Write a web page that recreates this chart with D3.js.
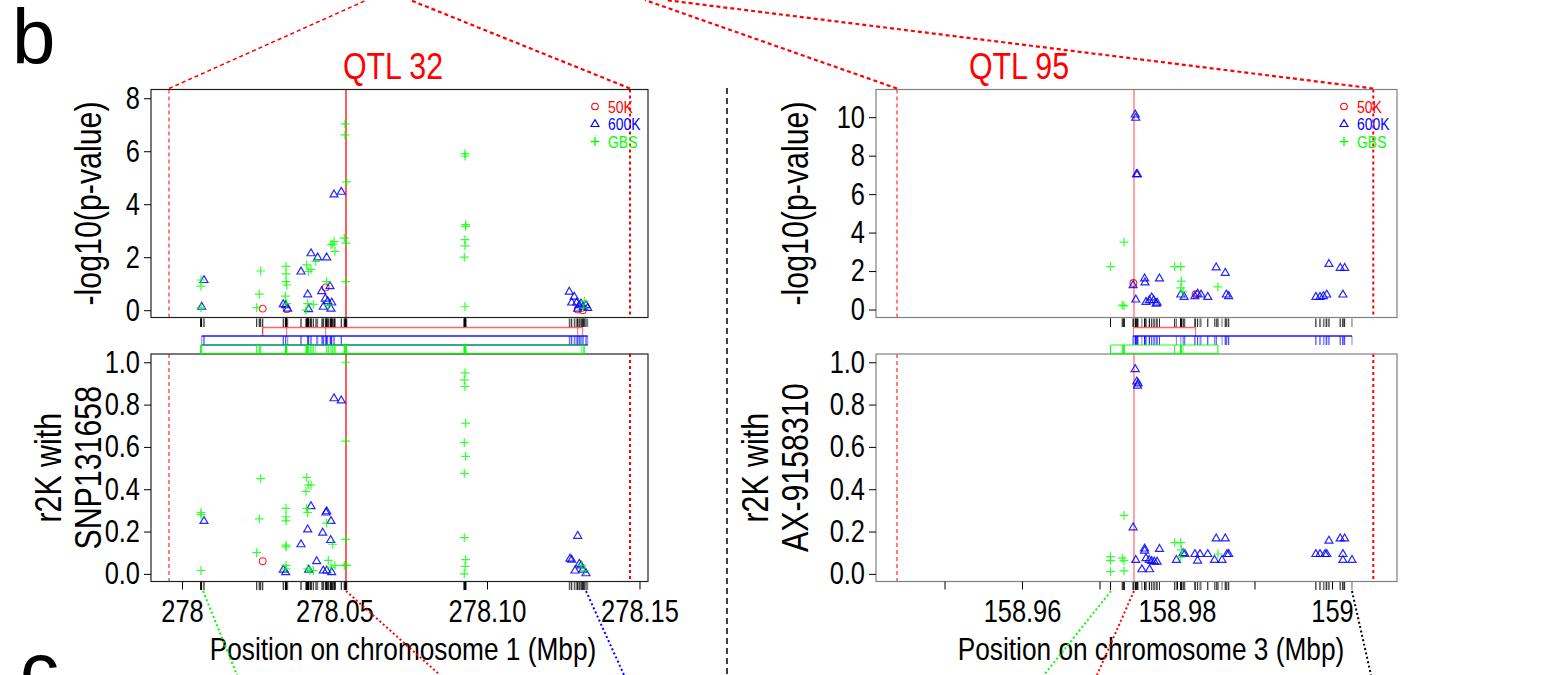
<!DOCTYPE html>
<html><head><meta charset="utf-8">
<script src="https://cdn.jsdelivr.net/npm/d3@7"></script>
<style>html,body{margin:0;padding:0;background:#fff;} svg{display:block}</style>
</head><body>
<svg id="c" width="1543" height="675"></svg>
<script>
// ---------------- DATA ----------------
// QTL 32, chromosome 1 (positions in Mbp)
const q32_pval_50K = [[278.02646,0.06],[278.03433,0.04],[278.04711,0.86],[278.12974,0.03],[278.13138,0.00]];
const q32_pval_600K = [[278.00646,0.13],[278.00721,1.14],[278.03321,0.23],[278.03400,0.19],[278.03466,0.06],[278.03902,1.46],[278.04121,0.60],[278.04154,0.04],[278.04230,2.15],[278.04449,1.99],[278.04744,1.99],[278.04580,0.72],[278.04633,0.13],[278.04698,0.44],[278.04777,0.34],[278.04908,0.29],[278.04852,0.91],[278.04885,0.06],[278.04984,4.37],[278.05223,4.47],[278.12698,0.70],[278.12862,0.51],[278.12777,0.29],[278.12941,0.29],[278.13026,0.19],[278.13082,0.25],[278.13157,0.13],[278.12974,0.06],[278.13302,0.09],[278.13246,0.19]];
const q32_pval_GBS = [[278.00623,1.14],[278.00623,0.91],[278.00623,0.09],[278.02580,1.48],[278.02534,0.61],[278.02449,0.10],[278.03410,1.65],[278.03410,1.37],[278.03410,1.08],[278.03387,0.53],[278.03433,0.25],[278.03433,0.95],[278.04089,1.71],[278.04141,1.46],[278.04230,1.54],[278.04066,0.00],[278.04121,0.25],[278.04305,0.22],[278.04384,1.84],[278.04744,1.08],[278.04797,0.19],[278.04941,2.49],[278.05016,2.22],[278.04993,2.59],[278.04885,2.47],[278.05344,7.03],[278.05344,6.62],[278.05400,4.84],[278.05321,2.72],[278.05377,2.53],[278.05367,1.08],[278.09279,5.91],[278.09279,5.82],[278.09302,3.23],[278.09302,3.16],[278.09279,2.66],[278.09279,2.43],[278.09256,2.00],[278.09279,0.13],[278.13190,0.34],[278.13157,0.09]];
const q32_r2_50K = [[278.02646,0.06]];
const q32_r2_600K = [[278.00721,0.25],[278.03321,0.02],[278.03400,0.008],[278.03902,0.14],[278.04121,0.21],[278.04154,0.02],[278.04230,0.32],[278.04416,0.06],[278.04613,0.195],[278.04744,0.296],[278.04721,0.29],[278.04885,0.25],[278.04875,0.16],[278.04633,0.016],[278.04744,0.016],[278.04908,0.008],[278.04984,0.83],[278.05223,0.82],[278.12974,0.18],[278.12721,0.072],[278.12777,0.067],[278.13026,0.048],[278.13082,0.04],[278.12885,0.016],[278.13138,0.02],[278.13246,0.003]];
const q32_r2_GBS = [[278.00623,0.29],[278.00623,0.28],[278.00623,0.016],[278.02580,0.45],[278.02534,0.26],[278.02449,0.10],[278.03410,0.31],[278.03410,0.27],[278.03410,0.25],[278.03410,0.136],[278.03410,0.128],[278.03410,0.04],[278.03410,0.024],[278.04089,0.456],[278.04141,0.42],[278.04230,0.42],[278.04066,0.39],[278.04089,0.31],[278.04121,0.29],[278.04121,0.024],[278.04197,0.016],[278.04305,0.016],[278.04744,0.24],[278.04797,0.064],[278.04941,0.14],[278.05016,0.04],[278.04885,0.032],[278.05367,1.0],[278.05367,0.627],[278.05367,0.163],[278.05321,0.04],[278.05400,0.04],[278.09279,0.95],[278.09256,0.917],[278.09279,0.885],[278.09302,0.712],[278.09256,0.62],[278.09302,0.555],[278.09256,0.475],[278.09256,0.171],[278.09302,0.067],[278.09279,0.035],[278.09256,0.0],[278.13105,0.04],[278.13190,0.016]];

// QTL 95, chromosome 3
const q95_pval_50K = [[158.97437,1.38],[158.98240,0.80]];
const q95_pval_600K = [[158.97461,10.14],[158.97468,9.97],[158.97490,7.04],[158.97477,7.04],[158.97434,1.27],[158.97468,0.52],[158.97582,1.62],[158.97587,1.41],[158.97600,0.40],[158.97643,0.49],[158.97674,0.63],[158.97699,0.49],[158.97730,0.31],[158.97743,0.36],[158.97774,1.62],[158.98049,0.78],[158.98092,0.66],[158.98231,0.70],[158.98266,0.83],[158.98310,0.78],[158.98397,0.66],[158.98506,2.19],[158.98623,1.91],[158.98637,0.78],[158.98667,0.70],[158.99792,0.66],[158.99845,0.66],[158.99889,0.70],[158.99932,0.78],[158.99961,2.37],[159.00106,2.17],[159.00163,2.17],[159.00141,0.78]];
const q95_pval_GBS = [[158.97142,2.23],[158.97316,3.50],[158.97294,0.23],[158.97316,0.19],[158.97970,2.23],[158.98049,2.23],[158.98057,1.48],[158.98049,1.13],[158.98079,0.92],[158.98528,1.18]];
const q95_r2_50K = [];
const q95_r2_600K = [[158.97461,0.968],[158.97481,0.909],[158.97499,0.90],[158.97490,0.89],[158.97434,0.22],[158.97468,0.066],[158.97547,0.022],[158.97646,0.022],[158.97582,0.12],[158.97582,0.11],[158.97600,0.074],[158.97643,0.066],[158.97674,0.061],[158.97708,0.058],[158.97743,0.058],[158.97774,0.118],[158.97992,0.066],[158.98079,0.098],[158.98101,0.095],[158.98231,0.094],[158.98266,0.063],[158.98297,0.094],[158.98397,0.094],[158.98506,0.168],[158.98623,0.168],[158.98484,0.066],[158.98581,0.066],[158.98645,0.094],[158.98667,0.094],[158.99792,0.094],[158.99845,0.094],[158.99910,0.094],[158.99932,0.094],[158.99961,0.157],[159.00106,0.168],[159.00163,0.168],[159.00141,0.094],[159.00141,0.066],[159.00258,0.066]];
const q95_r2_GBS = [[158.97142,0.082],[158.97142,0.063],[158.97142,0.011],[158.97316,0.276],[158.97294,0.074],[158.97316,0.063],[158.97316,0.014],[158.97970,0.148],[158.98049,0.148],[158.98057,0.113],[158.98049,0.079],[158.98528,0.094]];

// peaks, interval bounds, connectors (Mbp)
const q32_peak = 278.05377, q32_bounds = [277.99574, 278.14689];
const q95_peak = 158.97445, q95_bounds = [158.94387, 159.00533];
const q32_linkPos = [278.00689, 278.05377, 278.13246];
const q95_linkPos = [158.97148, 158.97445, 159.00258];

// axes
const q32_xTicks = [278, 278.05, 278.10, 278.15];
const q32_xLabels = ["278", "278.05", "278.10", "278.15"];
const q95_xTicks = [158.95, 158.96, 158.97, 158.98, 158.99, 159.00];
const q95_xLabels = ["", "158.96", "", "158.98", "", "159"];
const q32_yTicks = [0, 2, 4, 6, 8];
const q95_yTicks = [0, 2, 4, 6, 8, 10];
const r2Ticks = [0, 0.2, 0.4, 0.6, 0.8, 1.0];
const r2Labels = ["0.0", "0.2", "0.4", "0.6", "0.8", "1.0"];
const legendLabels = ["50K", "600K", "GBS"];
const titles = ["QTL 32", "QTL 95"];
const xTitles = ["Position on chromosome 1 (Mbp)", "Position on chromosome 3 (Mbp)"];
const r2Titles = [["r2K with", "SNP131658"], ["r2K with", "AX-9158310"]];
const yTitle = "-log10(p-value)";

// ---------------- DRAW ----------------
const svg = d3.select("#c");
const FN = "'Liberation Sans',Arial,sans-serif";   // condensed below via textLength
const RED = "#ff0000", BLUE = "#0000ff", GREEN = "#00ff00";
const TOP = {y0: 89.5, y1: 317.5};
const BOT = {y0: 354, y1: 581.5};
const defs = svg.append("defs");

const TRI = "M0,-4.4L4,2.5L-4,2.5Z";
const PLUS = "M-4.4,0H4.4M0,-4.4V4.4";

function drawPts(layer, s50, s600, sGBS, x, y) {
  layer.append("g").selectAll("circle").data(s50).join("circle")
    .attr("cx", d => x(d[0])).attr("cy", d => y(d[1])).attr("r", 3.4)
    .attr("fill", "none").attr("stroke", RED).attr("stroke-width", 1.1).attr("opacity", 0.85);
  layer.append("g").selectAll("path").data(s600).join("path")
    .attr("d", TRI).attr("transform", d => `translate(${x(d[0])},${y(d[1])})`)
    .attr("fill", "none").attr("stroke", BLUE).attr("stroke-width", 1.2).attr("opacity", 0.85);
  layer.append("g").selectAll("path").data(sGBS).join("path")
    .attr("d", PLUS).attr("transform", d => `translate(${x(d[0])},${y(d[1])})`)
    .attr("fill", "none").attr("stroke", GREEN).attr("stroke-width", 1.2).attr("opacity", 0.8);
}

function rug(pos, x, y1, y2, color, op) {
  svg.append("g").selectAll("line").data(pos).join("line")
    .attr("x1", d => x(d)).attr("x2", d => x(d)).attr("y1", y1).attr("y2", y2)
    .attr("stroke", color).attr("stroke-width", 1).attr("opacity", op);
}
function hline(pos, x, y, color, op, w) {
  const e = d3.extent(pos);
  svg.append("line").attr("x1", x(e[0])).attr("x2", x(e[1])).attr("y1", y).attr("y2", y)
    .attr("stroke", color).attr("stroke-width", w).attr("opacity", op);
}

function panel(c) {
  const x = d3.scaleLinear().domain(c.xDom).range([c.x0, c.x1]);
  const yT = d3.scaleLinear().domain(c.yTopDom).range([TOP.y1, TOP.y0]);
  const yB = d3.scaleLinear().domain([-0.036, 1.039]).range([BOT.y1, BOT.y0]);

  [["t", TOP], ["b", BOT]].forEach(([k, b]) => {
    defs.append("clipPath").attr("id", c.id + k).append("rect")
      .attr("x", c.x0).attr("y", b.y0).attr("width", c.x1 - c.x0).attr("height", b.y1 - b.y0);
  });

  [["t", TOP, yT, c.p50, c.p600, c.pGBS], ["b", BOT, yB, c.r50, c.r600, c.rGBS]].forEach(([k, b, y, a1, a2, a3]) => {
    const L = svg.append("g").attr("clip-path", `url(#${c.id + k})`);
    L.append("line").attr("x1", x(c.bounds[0])).attr("x2", x(c.bounds[0])).attr("y1", b.y0).attr("y2", b.y1)
      .attr("stroke", RED).attr("stroke-width", 1).attr("stroke-dasharray", "4,3");
    L.append("line").attr("x1", x(c.bounds[1])).attr("x2", x(c.bounds[1])).attr("y1", b.y0).attr("y2", b.y1)
      .attr("stroke", RED).attr("stroke-width", 2).attr("stroke-dasharray", "3,3");
    L.append("line").attr("x1", x(c.peak)).attr("x2", x(c.peak)).attr("y1", b.y0).attr("y2", b.y1)
      .attr("stroke", RED).attr("stroke-width", 1.6).attr("opacity", c.peakOp);
    drawPts(L, a1, a2, a3, x, y);
    svg.append("rect").attr("x", c.x0).attr("y", b.y0).attr("width", c.x1 - c.x0).attr("height", b.y1 - b.y0)
      .attr("fill", "none").attr("stroke", c.boxColor).attr("stroke-width", 1.2);
  });

  // legend
  const lg = svg.append("g");
  const lx = c.x1 - 53, ly = [106.5, 124, 141.5];
  lg.append("circle").attr("cx", lx).attr("cy", ly[0]).attr("r", 3.3).attr("fill", "none").attr("stroke", RED).attr("stroke-width", 1.1);
  lg.append("path").attr("d", TRI).attr("transform", `translate(${lx},${ly[1]})`).attr("fill", "none").attr("stroke", BLUE).attr("stroke-width", 1.1);
  lg.append("path").attr("d", PLUS).attr("transform", `translate(${lx},${ly[2]})`).attr("fill", "none").attr("stroke", GREEN).attr("stroke-width", 1.3);
  [RED, BLUE, GREEN].forEach((col, i) => {
    lg.append("text").attr("class", "n").attr("x", lx + 13).attr("y", ly[i]).attr("dy", "0.36em").attr("fill", col)
      .attr("font-family", FN).attr("font-size", 17).text(legendLabels[i]);
  });

  // rugs
  const all50 = c.p50.concat(c.r50).map(d => d[0]);
  const all600 = c.p600.concat(c.r600).map(d => d[0]);
  const allGBS = c.pGBS.concat(c.rGBS).map(d => d[0]);
  const allPos = all50.concat(all600, allGBS);
  rug(allPos, x, 318.5, 327, "#000", 0.6);
  rug(allPos, x, 582, 590, "#000", 0.6);
  rug(all50, x, 327.5, 336, RED, 0.6);
  hline(all50, x, 327.5, RED, 0.6, 1.3);
  rug(all600, x, 336, 345, BLUE, 0.5);
  hline(all600, x, 336, BLUE, 0.9, 1.5);
  if (c.blueBottom) hline(all600, x, 345, BLUE, 0.8, 1.3);
  rug(allGBS, x, 345, 354, GREEN, 0.6);
  hline(allGBS, x, 345, GREEN, 0.6, 1.3);
  hline(allGBS, x, 353.5, GREEN, 0.7, 1.3);

  // axes
  const styleAxis = (g) => {
    g.select(".domain").remove();
    g.selectAll("line").attr("stroke", "#000");
    g.selectAll("text").attr("class", "n").attr("font-family", FN).attr("font-size", 31).attr("fill", "#000");
  };
  svg.append("g").attr("transform", `translate(${c.x0},0)`)
    .call(d3.axisLeft(yT).tickValues(c.yTicks).tickFormat(d3.format("d")).tickSize(7).tickPadding(4))
    .call(styleAxis);
  svg.append("g").attr("transform", `translate(${c.x0},0)`)
    .call(d3.axisLeft(yB).tickValues(r2Ticks).tickFormat((d, i) => r2Labels[i]).tickSize(7).tickPadding(4))
    .call(styleAxis);
  svg.append("g").attr("transform", `translate(0,${BOT.y1})`)
    .call(d3.axisBottom(x).tickValues(c.xTicks).tickFormat((d, i) => c.xLabels[i]).tickSize(8).tickPadding(10))
    .call(styleAxis);

  // titles
  svg.append("text").attr("class", "n").attr("x", c.titleX).attr("y", 79).attr("text-anchor", "middle").attr("fill", RED)
    .attr("font-family", FN).attr("font-size", 37).text(c.title);
  svg.append("text").attr("class", "n").attr("x", c.xTitleX).attr("y", 660).attr("text-anchor", "middle").attr("fill", "#000")
    .attr("font-family", FN).attr("font-size", 32).text(c.xTitle);
  svg.append("text").attr("class", "n").attr("transform", `translate(${c.yLabX},${(TOP.y0 + TOP.y1) / 2}) rotate(-90)`)
    .attr("text-anchor", "middle").attr("dy", "0.35em").attr("font-family", FN).attr("font-size", 37).text(yTitle);
  c.r2Title.forEach((t, i) => {
    svg.append("text").attr("class", "n").attr("transform", `translate(${c.yLabX - 40 + 40 * i},${(BOT.y0 + BOT.y1) / 2}) rotate(-90)`)
      .attr("text-anchor", "middle").attr("dy", "0.35em").attr("font-family", FN).attr("font-size", 37).text(t);
  });

  // top connectors
  c.topLinks.forEach((tx, i) => {
    svg.append("line").attr("x1", x(c.bounds[i])).attr("y1", TOP.y0 - 1).attr("x2", tx).attr("y2", 0)
      .attr("stroke", RED).attr("stroke-width", i === 0 && c.id === "L" ? 1.5 : 2.2).attr("stroke-dasharray", "4,3");
  });
  // bottom connectors
  c.botLinks.forEach((l, i) => {
    svg.append("line").attr("x1", x(c.linkPos[i])).attr("y1", 591).attr("x2", l[0]).attr("y2", 675)
      .attr("stroke", l[1]).attr("stroke-width", 2).attr("stroke-dasharray", "2,2.5");
  });
}

panel({id: "L", x0: 151, x1: 648, xDom: [277.98984, 278.15279], yTopDom: [-0.276, 8.33],
  p50: q32_pval_50K, p600: q32_pval_600K, pGBS: q32_pval_GBS,
  r50: q32_r2_50K, r600: q32_r2_600K, rGBS: q32_r2_GBS,
  peak: q32_peak, bounds: q32_bounds, peakOp: 0.8, boxColor: "#222", blueBottom: true,
  xTicks: q32_xTicks, xLabels: q32_xLabels, yTicks: q32_yTicks,
  title: titles[0], titleX: 393, xTitle: xTitles[0], xTitleX: 403, yLabX: 88, r2Title: r2Titles[0],
  topLinks: [367, 410], linkPos: q32_linkPos,
  botLinks: [[237, GREEN], [440, RED], [624, BLUE]]});

panel({id: "R", x0: 876, x1: 1397, xDom: [158.94116, 159.00839], yTopDom: [-0.415, 11.44],
  p50: q95_pval_50K, p600: q95_pval_600K, pGBS: q95_pval_GBS,
  r50: q95_r2_50K, r600: q95_r2_600K, rGBS: q95_r2_GBS,
  peak: q95_peak, bounds: q95_bounds, peakOp: 0.45, boxColor: "#808080", blueBottom: false,
  xTicks: q95_xTicks, xLabels: q95_xLabels, yTicks: q95_yTicks,
  title: titles[1], titleX: 1019, xTitle: xTitles[1], xTitleX: 1151, yLabX: 795, r2Title: r2Titles[1],
  topLinks: [645, 665], linkPos: q95_linkPos,
  botLinks: [[1044, GREEN], [1097, RED], [1371, "#000"]]});

// divider and panel letters
svg.append("line").attr("x1", 727).attr("x2", 727).attr("y1", 88).attr("y2", 675)
  .attr("stroke", "#000").attr("stroke-width", 1.5).attr("stroke-dasharray", "6,4");
svg.append("text").attr("x", 12).attr("y", 64).attr("font-family", "'Liberation Sans',Arial,sans-serif").attr("font-size", 78).text("b");
svg.append("text").attr("x", 20).attr("y", 697).attr("font-family", "'Liberation Sans',Arial,sans-serif").attr("font-size", 78).text("c");

// condense narrow texts (Arial Narrow look)
svg.selectAll("text.n").each(function () {
  const L = this.getComputedTextLength();
  if (L > 0) { this.setAttribute("textLength", (L * 0.82).toFixed(2)); this.setAttribute("lengthAdjust", "spacingAndGlyphs"); }
});
</script>
</body></html>
